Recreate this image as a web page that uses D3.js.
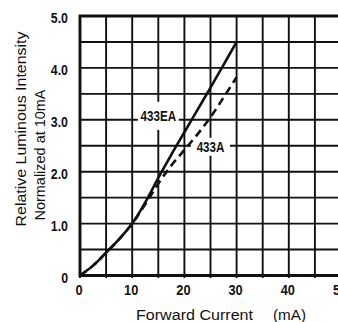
<!DOCTYPE html>
<html>
<head>
<meta charset="utf-8">
<script src="https://cdn.jsdelivr.net/npm/d3@7"></script>
<style>
  html, body { margin: 0; padding: 0; background: #fff; }
  svg { display: block; }
  .tick-num { font-family: "Liberation Sans", Arial, sans-serif; font-weight: bold; font-size: 14.5px; fill: #111; }
  .title { font-family: "Liberation Sans", Arial, sans-serif; font-size: 15.5px; fill: #111; }
</style>
</head>
<body>
<svg id="chart" width="338" height="322"></svg>
<script>
// Forward current (mA) sample points
const current = [0, 2.5, 5, 7.5, 10, 12.5, 15, 17.5, 20, 22.5, 25, 27.5, 30];
// Relative luminous intensity, normalized at 10 mA
const ea433 = [0, 0.19, 0.44, 0.7, 1.0, 1.41, 1.88, 2.33, 2.76, 3.19, 3.62, 4.06, 4.5];
const a433  = [0, 0.19, 0.44, 0.7, 1.0, 1.37, 1.77, 2.12, 2.42, 2.72, 3.05, 3.43, 3.82];

const xTickLabels = [0, 10, 20, 30, 40, 50];
const yTickLabels = ["0", "1.0", "2.0", "3.0", "4.0", "5.0"];
const xGrid = d3.range(0, 50.01, 5);
const yGrid = d3.range(0, 5.01, 0.5);

const svg = d3.select("#chart");
const x = d3.scaleLinear().domain([0, 50]).range([80, 341]);
const y = d3.scaleLinear().domain([0, 5]).range([275.5, 16]);

// squeeze bold numerals into a condensed face
function condense(sel, k) {
  sel.each(function () {
    const w = this.getComputedTextLength();
    d3.select(this).attr("textLength", w * k).attr("lengthAdjust", "spacingAndGlyphs");
  });
}

// grid
const grid = svg.append("g").attr("stroke", "#111").attr("stroke-width", 1.9);
grid.selectAll("line.v").data(xGrid).join("line")
  .attr("x1", d => x(d)).attr("x2", d => x(d))
  .attr("y1", y(5)).attr("y2", y(0) + 2.5);
grid.selectAll("line.h").data(yGrid).join("line")
  .attr("x1", x(0)).attr("x2", x(50))
  .attr("y1", d => y(d)).attr("y2", d => y(d));

// frame
svg.append("path")
  .attr("d", `M${x(50)},${y(5)} H${x(0)} V${y(0)} H${x(50)}`)
  .attr("fill", "none").attr("stroke", "#111").attr("stroke-width", 2.9);

// label patches cover the grid behind each series name
const labels = [
  { text: "433EA", at: [15, 3.0], w: 41, h: 28, dy: -4 },
  { text: "433A",  at: [25, 2.5], w: 39, h: 18, dy: 1 }
];
labels.forEach(l => {
  svg.append("rect")
    .attr("x", x(l.at[0]) - l.w / 2).attr("y", y(l.at[1]) + l.dy - l.h / 2)
    .attr("width", l.w).attr("height", l.h).attr("fill", "#fff");
});

// curves
const line = d3.line().x(d => x(d[0])).y(d => y(d[1])).curve(d3.curveCatmullRom.alpha(0.5));
svg.append("path").datum(d3.zip(current, a433)).attr("d", line)
  .attr("fill", "none").attr("stroke", "#111").attr("stroke-width", 2.6)
  .attr("stroke-dasharray", "8,5");
svg.append("path").datum(d3.zip(current, ea433)).attr("d", line)
  .attr("fill", "none").attr("stroke", "#111").attr("stroke-width", 2.6);

labels.forEach(l => {
  svg.append("text").attr("class", "tick-num")
    .attr("x", x(l.at[0])).attr("y", y(l.at[1]) + l.dy)
    .attr("text-anchor", "middle").attr("dominant-baseline", "central")
    .text(l.text)
    .call(condense, 0.8);
});

// tick labels
svg.selectAll("text.xt").data(xTickLabels).join("text")
  .attr("class", "tick-num")
  .attr("x", d => x(d) - 1).attr("y", 290)
  .attr("text-anchor", "middle").attr("dominant-baseline", "central")
  .text(d => d)
  .call(condense, 0.88);
svg.selectAll("text.yt").data(yTickLabels).join("text")
  .attr("class", "tick-num")
  .attr("x", 68).attr("y", (d, i) => y(i) + 2)
  .attr("text-anchor", "end").attr("dominant-baseline", "central")
  .text(d => d)
  .call(condense, 0.85);

// axis titles
svg.append("text").attr("class", "title")
  .attr("transform", "translate(20,129) rotate(-90)")
  .attr("text-anchor", "middle").attr("dominant-baseline", "central")
  .attr("textLength", 195).attr("lengthAdjust", "spacingAndGlyphs")
  .text("Relative Luminous Intensity");
svg.append("text").attr("class", "title")
  .attr("transform", "translate(39,155) rotate(-90)")
  .attr("text-anchor", "middle").attr("dominant-baseline", "central")
  .attr("textLength", 131).attr("lengthAdjust", "spacingAndGlyphs")
  .text("Normalized at 10mA");
svg.append("text").attr("class", "title")
  .attr("x", 136).attr("y", 314)
  .attr("dominant-baseline", "central")
  .attr("textLength", 117).attr("lengthAdjust", "spacingAndGlyphs")
  .text("Forward Current");
svg.append("text").attr("class", "title")
  .attr("x", 273).attr("y", 314)
  .attr("dominant-baseline", "central")
  .attr("textLength", 33).attr("lengthAdjust", "spacingAndGlyphs")
  .text("(mA)");
</script>
</body>
</html>
